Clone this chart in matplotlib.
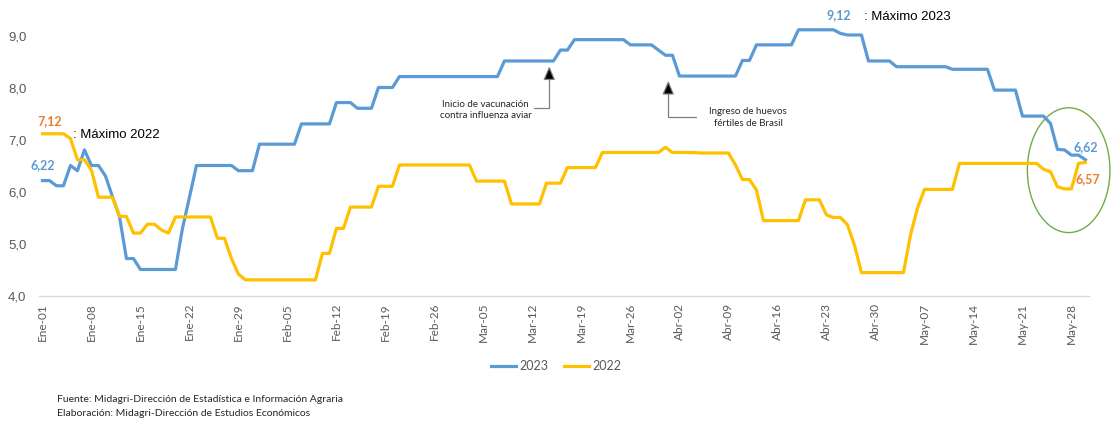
import matplotlib
matplotlib.use("Agg")
import matplotlib.pyplot as plt
from matplotlib.patches import Ellipse

# ---------------- data ----------------
precio_2023 = [
    6.22, 6.22, 6.12, 6.12, 6.51, 6.41, 6.81, 6.51, 6.51, 6.31,
    5.91, 5.53, 4.72, 4.72, 4.51, 4.51, 4.51, 4.51, 4.51, 4.51,
    5.30, 5.90, 6.51, 6.51, 6.51, 6.51, 6.51, 6.51, 6.41, 6.41,
    6.41, 6.92, 6.92, 6.92, 6.92, 6.92, 6.92, 7.31, 7.31, 7.31,
    7.31, 7.31, 7.72, 7.72, 7.72, 7.61, 7.61, 7.61, 8.01, 8.01,
    8.01, 8.22, 8.22, 8.22, 8.22, 8.22, 8.22, 8.22, 8.22, 8.22,
    8.22, 8.22, 8.22, 8.22, 8.22, 8.22, 8.52, 8.52, 8.52, 8.52,
    8.52, 8.52, 8.52, 8.52, 8.73, 8.73, 8.93, 8.93, 8.93, 8.93,
    8.93, 8.93, 8.93, 8.93, 8.83, 8.83, 8.83, 8.83, 8.73, 8.63,
    8.63, 8.23, 8.23, 8.23, 8.23, 8.23, 8.23, 8.23, 8.23, 8.23,
    8.53, 8.53, 8.83, 8.83, 8.83, 8.83, 8.83, 8.83, 9.12, 9.12,
    9.12, 9.12, 9.12, 9.12, 9.05, 9.02, 9.02, 9.02, 8.52, 8.52,
    8.52, 8.52, 8.41, 8.41, 8.41, 8.41, 8.41, 8.41, 8.41, 8.41,
    8.36, 8.36, 8.36, 8.36, 8.36, 8.36, 7.96, 7.96, 7.96, 7.96,
    7.46, 7.46, 7.46, 7.46, 7.32, 6.82, 6.81, 6.71, 6.71, 6.62,
]

precio_2022 = [
    7.12, 7.12, 7.12, 7.12, 7.03, 6.62, 6.62, 6.42, 5.90, 5.90,
    5.90, 5.53, 5.53, 5.21, 5.21, 5.38, 5.38, 5.27, 5.21, 5.52,
    5.52, 5.52, 5.52, 5.52, 5.52, 5.11, 5.11, 4.72, 4.42, 4.31,
    4.31, 4.31, 4.31, 4.31, 4.31, 4.31, 4.31, 4.31, 4.31, 4.31,
    4.82, 4.82, 5.30, 5.30, 5.71, 5.71, 5.71, 5.71, 6.11, 6.11,
    6.11, 6.52, 6.52, 6.52, 6.52, 6.52, 6.52, 6.52, 6.52, 6.52,
    6.52, 6.52, 6.21, 6.21, 6.21, 6.21, 6.21, 5.77, 5.77, 5.77,
    5.77, 5.77, 6.17, 6.17, 6.17, 6.47, 6.47, 6.47, 6.47, 6.47,
    6.76, 6.76, 6.76, 6.76, 6.76, 6.76, 6.76, 6.76, 6.76, 6.86,
    6.76, 6.76, 6.76, 6.76, 6.75, 6.75, 6.75, 6.75, 6.75, 6.52,
    6.24, 6.24, 6.04, 5.45, 5.45, 5.45, 5.45, 5.45, 5.45, 5.85,
    5.85, 5.85, 5.56, 5.51, 5.51, 5.37, 4.98, 4.45, 4.45, 4.45,
    4.45, 4.45, 4.45, 4.45, 5.17, 5.69, 6.05, 6.05, 6.05, 6.05,
    6.05, 6.55, 6.55, 6.55, 6.55, 6.55, 6.55, 6.55, 6.55, 6.55,
    6.55, 6.55, 6.55, 6.44, 6.39, 6.10, 6.06, 6.06, 6.55, 6.57,
]

tick_labels = ["Ene-01", "Ene-08", "Ene-15", "Ene-22", "Ene-29", "Feb-05",
               "Feb-12", "Feb-19", "Feb-26", "Mar-05", "Mar-12", "Mar-19",
               "Mar-26", "Abr-02", "Abr-09", "Abr-16", "Abr-23", "Abr-30",
               "May-07", "May-14", "May-21", "May-28"]
y_ticks = [4.0, 5.0, 6.0, 7.0, 8.0, 9.0]

# ---------------- style ----------------
C23 = "#5B9BD5"
C22 = "#FFC000"
ORANGE = "#ED7D31"
GRAY = "#595959"

fig = plt.figure(figsize=(11.13, 4.21), dpi=100)
ax = fig.add_axes([0.035, 0.2969, 0.9434, 0.6793])

x = list(range(len(precio_2023)))
ax.plot(x, precio_2023, color=C23, lw=2.3, label="2023", solid_joinstyle="round")
ax.plot(x, precio_2022, color=C22, lw=2.3, label="2022", solid_joinstyle="round")

ax.set_xlim(-0.5, 149.5)
ax.set_ylim(4.0, 9.5)

ax.set_yticks(y_ticks)
ax.set_yticklabels([f"{v:.1f}".replace(".", ",") for v in y_ticks],
                   fontsize=9.5, color=GRAY, family="Liberation Sans")
ax.set_xticks(list(range(0, 7 * len(tick_labels), 7)))
ax.set_xticklabels(tick_labels, rotation=90, fontsize=8.5, color=GRAY,
                   family="Lato")
ax.tick_params(axis="both", length=0)
ax.tick_params(axis="y", pad=9)
ax.tick_params(axis="x", pad=5)

for s in ["top", "right", "left"]:
    ax.spines[s].set_visible(False)
ax.spines["bottom"].set_color("#D9D9D9")
ax.spines["bottom"].set_linewidth(1.0)

# ---------------- annotations ----------------
ax.text(1.0, 7.37, "7,12", color=ORANGE, fontsize=9, fontweight="bold",
        ha="center", va="center", family="Lato")
ax.text(0.0, 6.51, "6,22", color=C23, fontsize=9, fontweight="bold",
        ha="center", va="center", family="Lato")
ax.text(4.3, 7.10, ": Máximo 2022", color="black", fontsize=9.5,
        ha="left", va="center", family="Liberation Sans")
ax.text(113.8, 9.41, "9,12", color=C23, fontsize=9, fontweight="bold",
        ha="center", va="center", family="Lato", clip_on=False)
ax.text(117.4, 9.37, ": Máximo 2023", color="black", fontsize=9.5,
        ha="left", va="center", family="Liberation Sans", clip_on=False)
ax.text(149.0, 6.87, "6,62", color=C23, fontsize=9, fontweight="bold",
        ha="center", va="center", family="Lato", clip_on=False)
ax.text(149.4, 6.25, "6,57", color=ORANGE, fontsize=9, fontweight="bold",
        ha="center", va="center", family="Lato", clip_on=False)

ell = Ellipse((146.6, 6.42), width=11.8, height=2.40, fill=False,
              edgecolor="#70AD47", lw=1.0, clip_on=False)
ax.add_patch(ell)

arrow_kw = dict(arrowstyle="-|>,head_length=0.7,head_width=0.3",
                connectionstyle="angle,angleA=0,angleB=90,rad=0",
                ec="#7F7F7F", fc="black", lw=0.9, shrinkA=0, shrinkB=0,
                mutation_scale=12)
ax.annotate("", xy=(72.4, 8.42), xytext=(70.2, 7.62), arrowprops=arrow_kw)
ax.annotate("", xy=(89.4, 8.14), xytext=(93.4, 7.44), arrowprops=arrow_kw)

ax.text(63.3, 7.58, "Inicio de vacunación\ncontra influenza aviar",
        fontsize=7, ha="center", va="center", color="#262626",
        family="Lato", linespacing=1.35)
ax.text(100.8, 7.43, "Ingreso de huevos\nfértiles de Brasil",
        fontsize=7, ha="center", va="center", color="#262626",
        family="Lato", linespacing=1.35)

# ---------------- legend ----------------
leg = fig.legend(loc="center", bbox_to_anchor=(556 / 1113, 1 - 366 / 421),
                 ncol=2, frameon=False, handlelength=2.0,
                 columnspacing=1.2, handletextpad=0.3,
                 prop={"family": "Lato", "size": 9})
for t in leg.get_texts():
    t.set_color(GRAY)

# ---------------- footnotes ----------------
fig.text(57 / 1113, 1 - 399 / 421,
         "Fuente: Midagri-Dirección de Estadística e Información Agraria",
         fontsize=7.5, ha="left", va="center", family="Lato", color="#262626")
fig.text(57 / 1113, 1 - 414 / 421,
         "Elaboración: Midagri-Dirección de Estudios Económicos",
         fontsize=7.5, ha="left", va="center", family="Lato", color="#262626")

fig.savefig("out.png", dpi=100)
